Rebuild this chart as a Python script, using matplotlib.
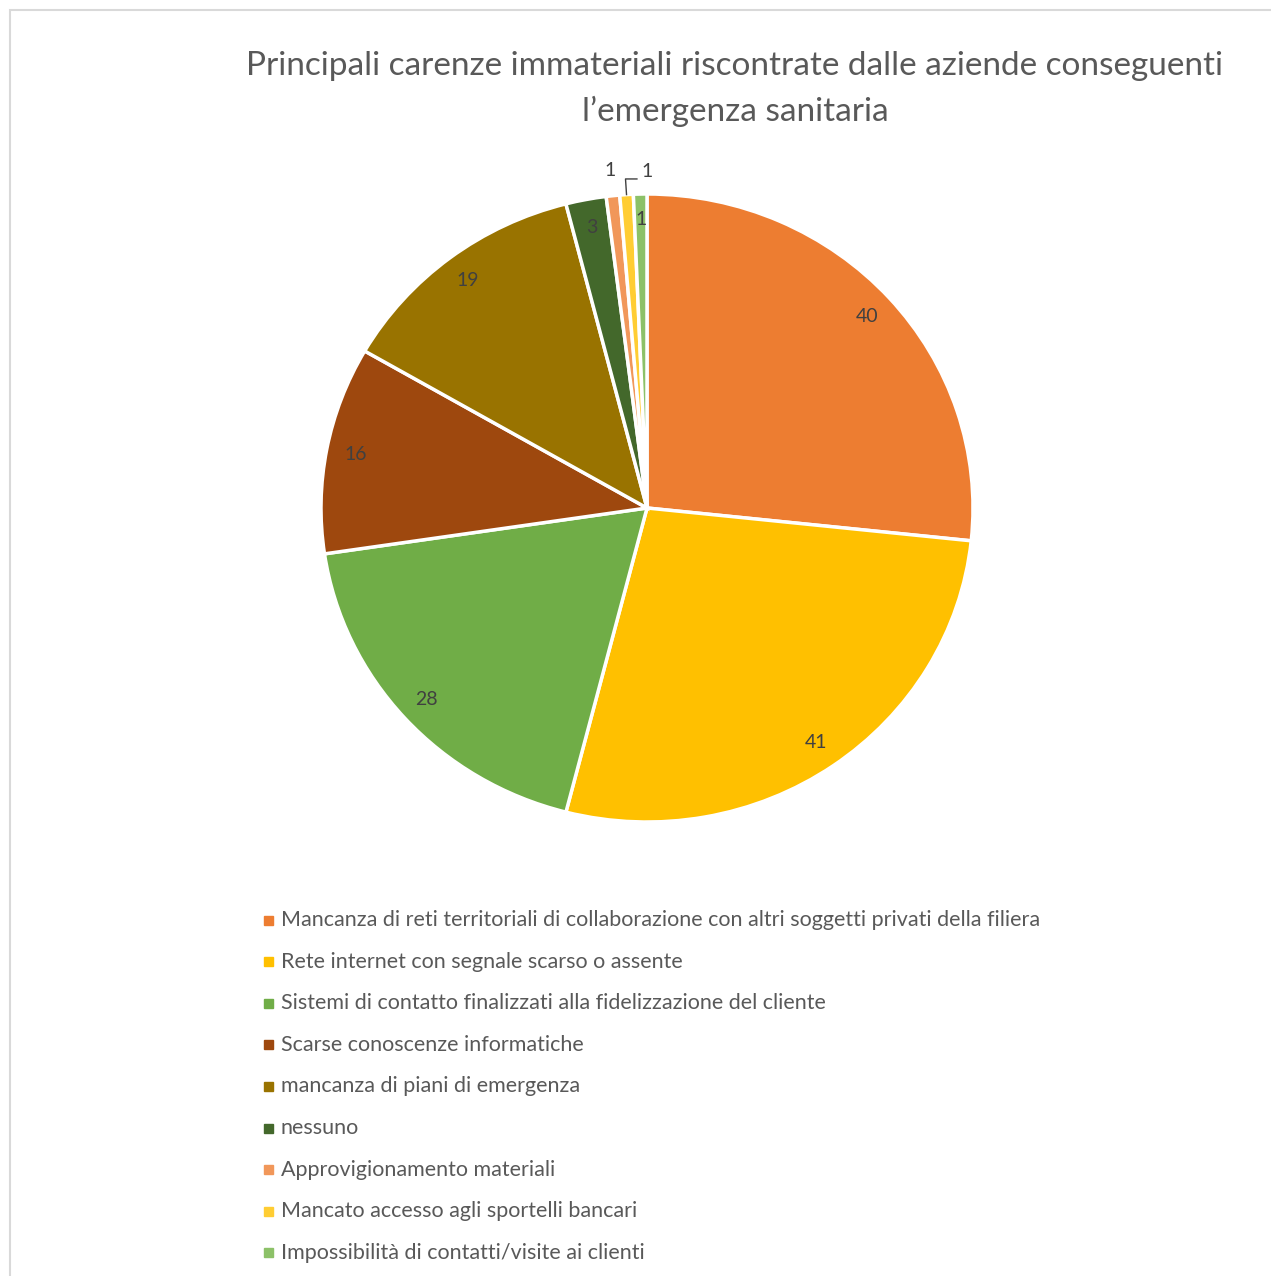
import numpy as np
import matplotlib.pyplot as plt
from matplotlib.patches import Rectangle

# chart data
categories = [
    'Mancanza di reti territoriali di collaborazione con altri soggetti privati della filiera',
    'Rete internet con segnale scarso o assente',
    'Sistemi di contatto finalizzati alla fidelizzazione del cliente',
    'Scarse conoscenze informatiche',
    'mancanza di piani di emergenza',
    'nessuno',
    'Approvigionamento materiali',
    'Mancato accesso agli sportelli bancari',
    'Impossibilità di contatti/visite ai clienti',
]
values = [40, 41, 28, 16, 19, 3, 1, 1, 1]
colors = ['#ED7D31', '#FFC000', '#70AD47', '#9E480E', '#997300',
          '#43682B', '#F1975A', '#FFCD33', '#8CC168']

title = 'Principali carenze immateriali riscontrate dalle aziende conseguenti\nl\u2019emergenza sanitaria'

plt.rcParams['font.family'] = ['Lato', 'DejaVu Sans']

W, H = 1271, 1276
fig = plt.figure(figsize=(W / 100, H / 100), dpi=100)

# light grey chart frame
fig.patches.append(Rectangle((10 / W, -0.01), 1.0, 1 - 10 / H + 0.01,
                             transform=fig.transFigure, fill=False,
                             edgecolor='#D9D9D9', linewidth=1.5))

# pie box in pixels: centre (647, 508), rx 326, ry 314
cx, cy, rx, ry = 647, 508, 326, 314
ax = fig.add_axes([(cx - rx) / W, (H - cy - ry) / H, 2 * rx / W, 2 * ry / H])
wedges, _ = ax.pie(values, colors=colors, startangle=90, counterclock=False,
                   radius=1.0, wedgeprops=dict(edgecolor='white', linewidth=2.5))
ax.set_aspect('auto')
ax.set_xlim(-1, 1)
ax.set_ylim(-1, 1)
ax.axis('off')

# data labels (label distance per slice, small slices pushed out)
label_dist = [0.91, 0.91, 0.91, 0.91, 0.91, 0.91, 1.08, None, 0.92]
for i, w in enumerate(wedges):
    a = np.deg2rad((w.theta1 + w.theta2) / 2)
    if label_dist[i] is None:
        # leader line for the tiny middle slice
        x0, y0 = np.cos(a), np.sin(a)
        x1, y1 = np.cos(a) * 1.05, np.sin(a) * 1.05
        x2 = x1 + 0.035
        ax.plot([x0, x1, x2], [y0, y1, y1], color='#404040', lw=1, clip_on=False)
        ax.text(x2 + 0.03, y1 + 0.025, str(values[i]), ha='center', va='center',
                fontsize=14, color='#404040')
        continue
    d = label_dist[i]
    ax.text(np.cos(a) * d, np.sin(a) * d, str(values[i]), ha='center', va='center',
            fontsize=14, color='#404040')

fig.text(735 / W, 1 - 89 / H, title, ha='center', va='center', fontsize=24,
         color='#595959', linespacing=1.55)

# legend
y0 = 920
step = 41.6
for i, lab in enumerate(categories):
    y = 1 - (y0 + i * step) / H
    fig.patches.append(Rectangle((264 / W, y - 4.5 / H), 9 / W, 9 / H,
                                 transform=fig.transFigure, color=colors[i]))
    fig.text(281 / W, y, lab, ha='left', va='center', fontsize=15.5, color='#595959')

fig.savefig('out.png', dpi=100)
